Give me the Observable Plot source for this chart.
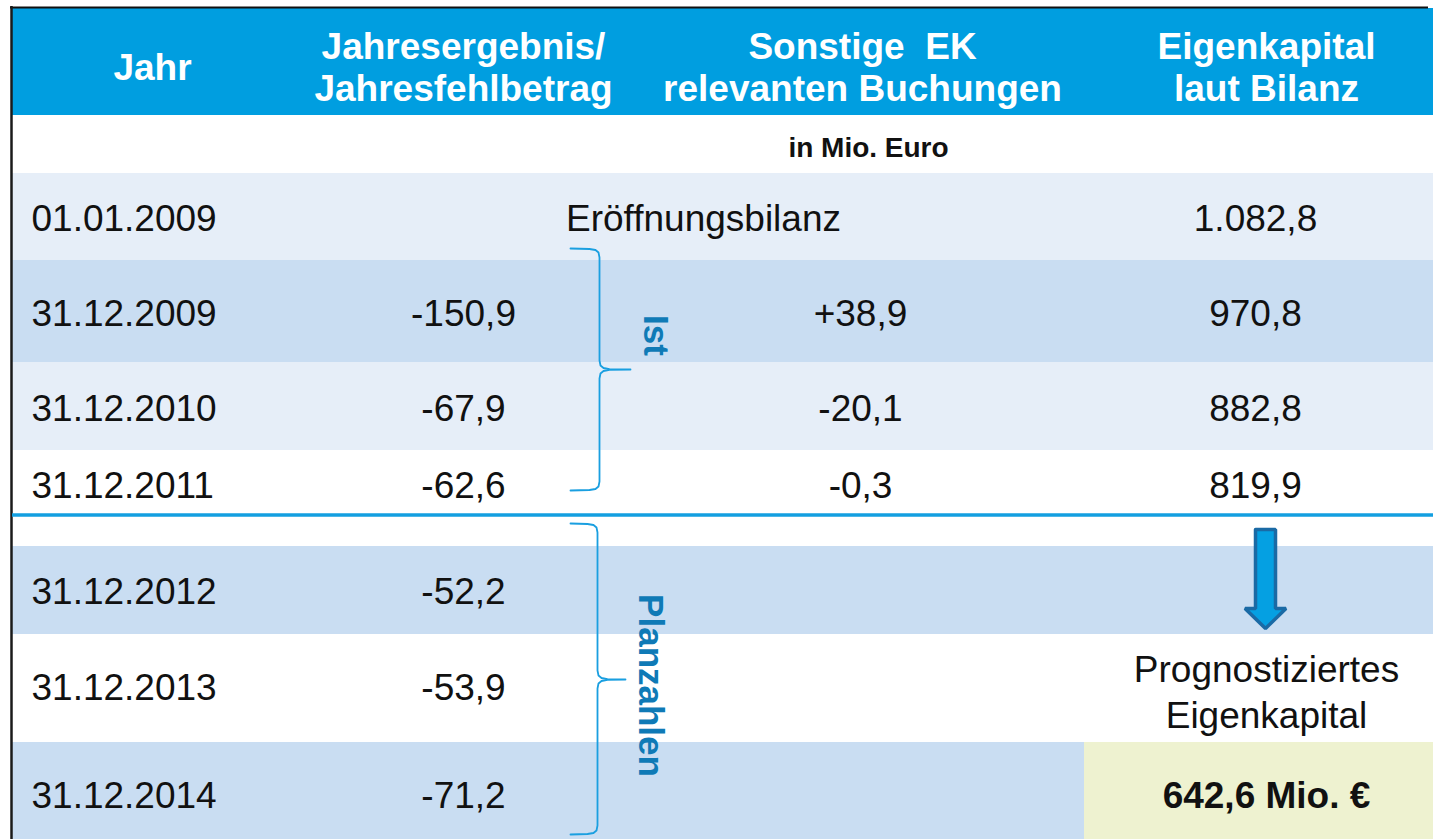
<!DOCTYPE html>
<html>
<head>
<meta charset="utf-8">
<script src="https://cdn.jsdelivr.net/npm/d3@7"></script>
<script src="https://cdn.jsdelivr.net/npm/@observablehq/plot@0.6"></script>
<style>
  html, body { margin: 0; padding: 0; background: #ffffff; }
  #chart svg { display: block; }
</style>
</head>
<body>
<div id="chart"></div>
<script>
// ---------- DATA ----------
const spalten = ["Jahr", "Jahresergebnis/\nJahresfehlbetrag", "Sonstige  EK\nrelevanten Buchungen", "Eigenkapital\nlaut Bilanz"];
const einheit = "in Mio. Euro";
const eroeffnung = "Eröffnungsbilanz";
const jahre = ["01.01.2009", "31.12.2009", "31.12.2010", "31.12.2011", "31.12.2012", "31.12.2013", "31.12.2014"];
const jahresergebnis = [null, -150.9, -67.9, -62.6, -52.2, -53.9, -71.2];
const sonstigeBuchungen = [null, 38.9, -20.1, -0.3, null, null, null];
const eigenkapital = [1082.8, 970.8, 882.8, 819.9, null, null, null];
const gruppen = ["Ist", "Planzahlen"];
const prognoseLabel = "Prognostiziertes\nEigenkapital";
const prognose = 642.6;
const prognoseEinheit = "Mio. €";

// ---------- LAYOUT (pixels) ----------
const W = 1433, H = 839;
const L = {
  left: 12,
  headerTop: 8, headerBottom: 115, headerY: 66,
  unitY: 148,
  rowTop:    [173, 260, 362, 450, 546, 634, 742],
  rowBottom: [260, 362, 450, 514, 634, 742, 839],
  rowFill: ["#e6eef8", "#c9ddf2", "#e6eef8", "#ffffff", "#c9ddf2", "#ffffff", "#c9ddf2"],
  textY: [219, 314, 409, 486, 592, 688, 796],
  headerX: [152, 463, 862, 1266],
  dateX: 31, ergX: 463, sonstX: 860, ekX: 1255, eroeffX: 703, unitX: 868,
  sepY: 514.5,
  yellowX1: 1084,
  prognoseX: 1266, prognoseLabelY: 690,
  arrow: {cx: 1265, top: 529, headTop: 608, tip: 628, shaftHalf: 10, headHalf: 20.5},
  braces: [
    {g: "Ist", xEnd: 570, xStem: 599, xTip: 630, yTop: 248, yMid: 369, yBot: 490, labelX: 655, labelY: 335},
    {g: "Planzahlen", xEnd: 570, xStem: 597, xTip: 625, yTop: 523, yMid: 679, yBot: 834, labelX: 650, labelY: 685}
  ]
};

const FONT = "'Liberation Sans', Arial, Helvetica, sans-serif";
const de = d3.formatLocale({decimal: ",", thousands: ".", grouping: [3], currency: ["", " €"], minus: "-"});
const f1 = de.format(".1f");
const fSign = de.format("+.1f");
const fGroup = de.format(",.1f");

const rows = jahre.map((jahr, i) => ({
  i, jahr,
  ergebnis: jahresergebnis[i],
  sonstige: sonstigeBuchungen[i],
  ek: eigenkapital[i]
}));

// brace point sets
function bracePoints(b) {
  const s = b.xStem, e = b.xEnd, t = b.xTip;
  const pts = [
    [e, b.yTop], [s - 10, b.yTop + 0.5], [s - 4, b.yTop + 1.5], [s - 1, b.yTop + 4], [s, b.yTop + 9],
    [s, b.yMid - 9], [s + 1, b.yMid - 4], [s + 4, b.yMid - 1.5], [s + 10, b.yMid - 0.3], [t, b.yMid],
    [s + 10, b.yMid + 0.3], [s + 4, b.yMid + 1.5], [s + 1, b.yMid + 4], [s, b.yMid + 9],
    [s, b.yBot - 9], [s - 1, b.yBot - 4], [s - 4, b.yBot - 1.5], [s - 10, b.yBot - 0.5], [e, b.yBot]
  ];
  return pts.map(([x, y]) => ({g: b.g, x, y}));
}
const braceData = L.braces.flatMap(bracePoints);

// arrow geometry
const A = L.arrow;
const arrowOutline = [
  [A.cx - A.shaftHalf, A.top], [A.cx + A.shaftHalf, A.top], [A.cx + A.shaftHalf, A.headTop],
  [A.cx + A.headHalf, A.headTop], [A.cx, A.tip], [A.cx - A.headHalf, A.headTop],
  [A.cx - A.shaftHalf, A.headTop], [A.cx - A.shaftHalf, A.top]
].map(([x, y]) => ({x, y}));
const arrowHead = [
  {x: A.cx - A.headHalf, y1: A.headTop, y2: A.headTop},
  {x: A.cx, y1: A.headTop, y2: A.tip},
  {x: A.cx + A.headHalf, y1: A.headTop, y2: A.headTop}
];

const bodyText = {fontFamily: FONT, fontSize: 37, fill: "#111111", lineAnchor: "middle"};

const chart = Plot.plot({
  width: W, height: H,
  margin: 0,
  x: {domain: [0, W], range: [0, W], axis: null},
  y: {domain: [0, H], range: [0, H], axis: null},
  style: {background: "#ffffff", fontFamily: FONT},
  marks: [
    // header band
    Plot.rect(spalten.slice(0, 1), {x1: () => L.left, x2: () => W, y1: () => L.headerTop, y2: () => L.headerBottom, fill: "#009ee0"}),
    // row backgrounds
    Plot.rect(rows, {x1: () => L.left, x2: () => W, y1: d => L.rowTop[d.i], y2: d => L.rowBottom[d.i], fill: d => L.rowFill[d.i]}),
    // white gap below separator
    Plot.rect([L.sepY], {x1: () => L.left, x2: () => W, y1: () => L.sepY, y2: () => L.rowTop[4], fill: "#ffffff"}),
    // highlighted result cell
    Plot.rect([prognose], {x1: () => L.yellowX1, x2: () => W, y1: () => L.rowTop[6], y2: () => L.rowBottom[6], fill: "#eef2d0"}),
    // borders
    Plot.ruleY([L.headerTop - 1], {x1: () => L.left - 2, x2: () => W - 5, stroke: "#111111", strokeWidth: 2}),
    Plot.ruleX([L.left - 1], {y1: () => L.headerTop - 2, y2: () => H, stroke: "#1a1a1a", strokeWidth: 2.5}),
    // separator Ist / Plan
    Plot.ruleY([L.sepY], {x1: () => L.left, x2: () => W, stroke: "#139fe0", strokeWidth: 3.5}),
    // header text
    Plot.text(spalten, {
      x: (d, i) => L.headerX[i], y: () => L.headerY, text: d => d,
      fontFamily: FONT, fontSize: 37, fontWeight: "bold", fill: "#ffffff", lineHeight: 1.13, lineAnchor: "middle"
    }),
    // unit
    Plot.text([einheit], {x: () => L.unitX, y: () => L.unitY, text: d => d, fontFamily: FONT, fontSize: 28, fontWeight: "bold", fill: "#111111", lineAnchor: "middle"}),
    // dates
    Plot.text(rows, {x: () => L.dateX, y: d => L.textY[d.i], text: "jahr", textAnchor: "start", ...bodyText}),
    // opening balance label
    Plot.text([eroeffnung], {x: () => L.eroeffX, y: () => L.textY[0], text: d => d, ...bodyText}),
    // annual result
    Plot.text(rows.filter(d => d.ergebnis != null), {x: () => L.ergX, y: d => L.textY[d.i], text: d => f1(d.ergebnis), ...bodyText}),
    // other bookings
    Plot.text(rows.filter(d => d.sonstige != null), {x: () => L.sonstX, y: d => L.textY[d.i], text: d => (d.sonstige > 0 ? fSign(d.sonstige) : f1(d.sonstige)), ...bodyText}),
    // equity
    Plot.text(rows.filter(d => d.ek != null), {x: () => L.ekX, y: d => L.textY[d.i], text: d => fGroup(d.ek), ...bodyText}),
    // braces
    Plot.line(braceData, {x: "x", y: "y", z: "g", stroke: "#1a9fe0", strokeWidth: 1.8, curve: "linear"}),
    // group labels
    Plot.text(L.braces, {
      x: d => d.labelX, y: d => d.labelY, text: (d, i) => gruppen[i], rotate: 90,
      fontFamily: FONT, fontSize: 35, fontWeight: "bold", fill: "#0f7ab6", lineAnchor: "middle"
    }),
    // arrow
    Plot.rect([A], {x1: d => d.cx - d.shaftHalf, x2: d => d.cx + d.shaftHalf, y1: d => d.top, y2: d => d.headTop + 2, fill: "#05a0e2"}),
    Plot.areaY(arrowHead, {x: "x", y1: "y1", y2: "y2", fill: "#05a0e2"}),
    Plot.line(arrowOutline, {x: "x", y: "y", stroke: "#1a6aa5", strokeWidth: 3.5, strokeLinejoin: "miter"}),
    // forecast
    Plot.text([prognoseLabel], {x: () => L.prognoseX, y: () => L.prognoseLabelY, text: d => d, lineHeight: 1.22, ...bodyText}),
    Plot.text([prognose], {x: () => L.prognoseX, y: () => L.textY[6], text: d => `${f1(d)} ${prognoseEinheit}`, ...bodyText, fontWeight: "bold"})
  ]
});
document.getElementById("chart").appendChild(chart);
</script>
</body>
</html>
